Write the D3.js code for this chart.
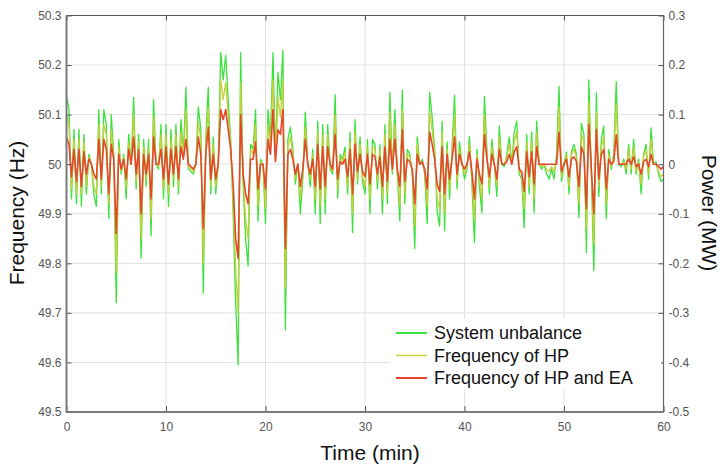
<!DOCTYPE html>
<html>
<head>
<meta charset="utf-8">
<script src="https://cdn.jsdelivr.net/npm/d3@7/dist/d3.min.js"></script>
<style>
  body { margin: 0; background: #fff; }
  svg { display: block; font-family: Arial, "Liberation Sans", sans-serif; }
</style>
</head>
<body>
<svg id="chart" width="722" height="465"></svg>
<script>
// sampling of the traces (min)
const SAMPLE_STEP = 0.25;
const NOMINAL_HZ = 50;

const xTicks = [0, 10, 20, 30, 40, 50, 60];
const xTickLabels = ['0', '10', '20', '30', '40', '50', '60'];
const hzTicks = [49.5, 49.6, 49.7, 49.8, 49.9, 50, 50.1, 50.2, 50.3];
const hzTickLabels = ['49.5', '49.6', '49.7', '49.8', '49.9', '50', '50.1', '50.2', '50.3'];
const mwTicks = [-0.5, -0.4, -0.3, -0.2, -0.1, 0, 0.1, 0.2, 0.3];
const mwTickLabels = ['-0.5', '-0.4', '-0.3', '-0.2', '-0.1', '0', '0.1', '0.2', '0.3'];

const seriesNames = ['System unbalance', 'Frequency of HP', 'Frequency of HP and EA'];

// system unbalance (MW)
const unbalanceMW = [
  0.14, 0.11, -0.07, 0.07, -0.08, 0.07, -0.085, 0.06, -0.06, 0.02,
  0.0, -0.06, -0.085, 0.11, -0.06, 0.11, 0.08, -0.11, 0.1, 0.02,
  -0.28, 0.05, -0.02, 0.02, -0.07, 0.06, 0.0, 0.135, -0.05, 0.06,
  -0.19, 0.05, -0.045, 0.05, -0.145, 0.13, 0.0, -0.01, 0.08, -0.07,
  0.08, -0.085, 0.07, -0.045, 0.08, -0.06, 0.09, 0.02, 0.155, -0.01,
  -0.015, -0.02, 0.0, 0.115, 0.07, -0.26, 0.055, 0.155, -0.06, 0.055,
  -0.06, 0.0, 0.225, 0.17, 0.22, 0.13, 0.05, -0.1, -0.28, -0.405,
  0.225, -0.04, -0.15, -0.205, 0.04, 0.03, 0.11, -0.115, 0.01, 0.0,
  -0.12, 0.11, 0.05, 0.225, 0.015, 0.185, 0.13, 0.23, -0.335, 0.05,
  0.075, 0.03, -0.04, 0.0, -0.1, -0.03, 0.105, 0.0, -0.045, 0.03,
  -0.1, 0.087, -0.12, 0.08, -0.1, 0.08, -0.01, -0.02, 0.14, -0.068,
  0.02, 0.01, 0.035, -0.06, 0.065, -0.138, 0.09, -0.04, 0.055, -0.035,
  -0.06, 0.05, -0.1, 0.05, 0.04, -0.05, 0.04, -0.1, 0.08, -0.08,
  0.145, -0.02, 0.11, -0.02, -0.115, 0.15, -0.08, 0.03, 0.02, -0.02,
  -0.17, 0.055, 0.0, 0.01, -0.02, -0.12, 0.145, 0.095, 0.03, -0.095,
  -0.125, 0.087, -0.135, 0.045, -0.07, 0.03, 0.14, -0.05, 0.045, 0.0,
  -0.03, -0.01, 0.056, -0.04, -0.158, 0.03, -0.045, -0.098, 0.137, 0.03,
  -0.06, 0.05, 0.0, -0.065, 0.077, 0.0, -0.005, 0.02, 0.055, 0.0,
  0.065, 0.087, -0.02, -0.03, -0.128, 0.06, -0.06, 0.065, -0.098, 0.087,
  0.0, -0.01, 0.0, -0.02, -0.03, -0.01, -0.03, 0.02, 0.157, -0.035,
  0.0, 0.025, -0.06, 0.025, 0.04, 0.02, -0.108, 0.083, 0.06, -0.178,
  0.17, -0.02, -0.215, 0.144, -0.065, 0.05, 0.077, -0.11, 0.03, -0.01,
  0.02, 0.167, 0.0, -0.005, 0.01, -0.02, 0.04, -0.02, 0.05, -0.02,
  0.01, -0.06, 0.02, 0.04, -0.03, 0.073, 0.0, 0.005, -0.02, -0.035,
  -0.03
];

// frequency deviation with HP only (Hz from 50)
const freqHPDev = [
  0.1, 0.08, -0.05, 0.05, -0.06, 0.05, -0.06, 0.045, -0.045, 0.015,
  0.0, -0.045, -0.06, 0.08, -0.045, 0.08, 0.06, -0.08, 0.07, 0.015,
  -0.22, 0.035, -0.015, 0.015, -0.05, 0.045, 0.0, 0.1, -0.035, 0.045,
  -0.15, 0.035, -0.03, 0.035, -0.11, 0.095, 0.0, -0.005, 0.06, -0.05,
  0.06, -0.06, 0.05, -0.03, 0.06, -0.045, 0.065, 0.015, 0.11, -0.005,
  -0.01, -0.015, 0.0, 0.085, 0.05, -0.2, 0.04, 0.115, -0.045, 0.04,
  -0.045, 0.0, 0.17, 0.13, 0.165, 0.1, 0.04, -0.07, -0.21, -0.3,
  0.165, -0.03, -0.11, -0.15, 0.03, 0.02, 0.08, -0.085, 0.005, 0.0,
  -0.09, 0.08, 0.035, 0.17, 0.01, 0.135, 0.095, 0.17, -0.25, 0.035,
  0.055, 0.02, -0.03, 0.0, -0.07, -0.02, 0.075, 0.0, -0.03, 0.02,
  -0.07, 0.065, -0.085, 0.06, -0.07, 0.06, -0.005, -0.015, 0.1, -0.05,
  0.015, 0.005, 0.025, -0.045, 0.045, -0.1, 0.065, -0.03, 0.04, -0.025,
  -0.045, 0.035, -0.07, 0.035, 0.03, -0.035, 0.03, -0.07, 0.06, -0.06,
  0.105, -0.015, 0.08, -0.015, -0.085, 0.11, -0.06, 0.02, 0.015, -0.015,
  -0.125, 0.04, 0.0, 0.005, -0.015, -0.085, 0.105, 0.07, 0.02, -0.07,
  -0.09, 0.065, -0.1, 0.03, -0.05, 0.02, 0.1, -0.035, 0.03, 0.0,
  -0.02, -0.005, 0.04, -0.03, -0.115, 0.02, -0.03, -0.07, 0.1, 0.02,
  -0.045, 0.035, 0.0, -0.045, 0.055, 0.0, 0.0, 0.015, 0.04, 0.0,
  0.045, 0.065, -0.015, -0.02, -0.09, 0.045, -0.045, 0.045, -0.07, 0.065,
  0.0, -0.005, 0.0, -0.01, -0.015, -0.005, -0.015, 0.01, 0.115, -0.025,
  0.0, 0.02, -0.045, 0.02, 0.03, 0.015, -0.08, 0.06, 0.045, -0.13,
  0.125, -0.015, -0.16, 0.105, -0.045, 0.035, 0.055, -0.08, 0.02, -0.005,
  0.015, 0.12, 0.0, 0.0, 0.005, -0.01, 0.03, -0.01, 0.035, -0.015,
  0.005, -0.04, 0.015, 0.03, -0.02, 0.05, 0.0, 0.0, -0.015, -0.025,
  -0.02
];

// frequency deviation with HP and EA (Hz from 50)
const freqHPEADev = [
  0.055, 0.04, -0.025, 0.03, -0.035, 0.03, -0.045, 0.025, -0.02, 0.01,
  0.0, -0.02, -0.03, 0.05, -0.03, 0.05, 0.03, -0.06, 0.04, 0.01,
  -0.14, 0.02, -0.01, 0.01, -0.03, 0.03, 0.0, 0.055, -0.02, 0.03,
  -0.1, 0.02, -0.02, 0.02, -0.07, 0.055, 0.0, 0.0, 0.03, -0.03,
  0.035, -0.04, 0.03, -0.02, 0.035, -0.03, 0.035, 0.01, 0.05, 0.0,
  -0.005, -0.01, 0.0, 0.055, 0.02, -0.13, 0.02, 0.075, -0.03, 0.02,
  -0.03, 0.0, 0.11, 0.09, 0.11, 0.07, 0.03, -0.04, -0.15, -0.19,
  0.1, -0.02, -0.06, -0.08, 0.01, 0.01, 0.045, -0.05, 0.0, 0.0,
  -0.05, 0.05, 0.02, 0.11, 0.005, 0.07, 0.06, 0.11, -0.17, 0.02,
  0.03, 0.01, -0.02, 0.0, -0.045, -0.01, 0.05, 0.0, -0.02, 0.01,
  -0.045, 0.04, -0.05, 0.035, -0.045, 0.035, 0.0, -0.01, 0.06, -0.03,
  0.005, 0.0, 0.01, -0.025, 0.03, -0.06, 0.04, -0.015, 0.02, -0.015,
  -0.025, 0.02, -0.04, 0.02, 0.015, -0.02, 0.015, -0.045, 0.035, -0.035,
  0.05, -0.01, 0.05, -0.01, -0.045, 0.07, -0.035, 0.01, 0.005, -0.01,
  -0.08, 0.02, 0.0, 0.005, -0.01, -0.05, 0.065, 0.04, 0.01, -0.04,
  -0.055, 0.035, -0.06, 0.02, -0.03, 0.01, 0.055, -0.02, 0.02, 0.0,
  -0.01, 0.0, 0.025, -0.015, -0.07, 0.01, -0.02, -0.04, 0.06, 0.01,
  -0.025, 0.02, 0.0, -0.03, 0.03, 0.0, 0.0, 0.005, 0.02, 0.0,
  0.025, 0.035, -0.01, -0.015, -0.055, 0.025, -0.025, 0.025, -0.04, 0.035,
  0.0, 0.0, 0.0, 0.0, 0.0, 0.0, 0.0, 0.0, 0.065, -0.015,
  0.0, 0.01, -0.025, 0.01, 0.015, 0.005, -0.045, 0.035, 0.02, -0.09,
  0.08, -0.01, -0.1, 0.07, -0.03, 0.02, 0.03, -0.05, 0.01, 0.0,
  0.005, 0.06, 0.0, 0.0, 0.0, 0.0, 0.01, 0.0, 0.015, -0.005,
  0.0, -0.02, 0.005, 0.01, -0.005, 0.02, 0.0, 0.0, -0.005, -0.01,
  -0.005
];

const colors = ['#3ce23c', '#c6cf3c', '#e6462a'];

const plot = { left: 66.5, right: 663.5, top: 15.5, bottom: 412 };

const svg = d3.select('#chart');

const x = d3.scaleLinear().domain([0, 60]).range([plot.left, plot.right]);
const yHz = d3.scaleLinear().domain([49.5, 50.3]).range([plot.bottom, plot.top]);
const yMW = d3.scaleLinear().domain([-0.5, 0.3]).range([plot.bottom, plot.top]);

const tAt = i => i * SAMPLE_STEP;

// grid
const grid = svg.append('g').attr('class', 'grid');
grid
  .selectAll('.vgrid')
  .data(xTicks.slice(1, -1))
  .enter()
  .append('line')
  .attr('x1', d => x(d))
  .attr('x2', d => x(d))
  .attr('y1', plot.top)
  .attr('y2', plot.bottom)
  .attr('stroke', '#e1e1e1')
  .attr('stroke-width', 1);
grid
  .selectAll('.hgrid')
  .data(hzTicks.slice(1, -1))
  .enter()
  .append('line')
  .attr('x1', plot.left)
  .attr('x2', plot.right)
  .attr('y1', d => yHz(d))
  .attr('y2', d => yHz(d))
  .attr('stroke', '#e1e1e1')
  .attr('stroke-width', 1);

// traces
const lineMW = d3
  .line()
  .x((d, i) => x(tAt(i)))
  .y(d => yMW(d));
const lineHz = d3
  .line()
  .x((d, i) => x(tAt(i)))
  .y(d => yHz(NOMINAL_HZ + d));

const traces = svg.append('g').attr('class', 'traces');
traces
  .append('path')
  .attr('d', lineMW(unbalanceMW))
  .attr('fill', 'none')
  .attr('stroke', colors[0])
  .attr('stroke-width', 1.3)
  .attr('stroke-linejoin', 'round');
traces
  .append('path')
  .attr('d', lineHz(freqHPDev))
  .attr('fill', 'none')
  .attr('stroke', colors[1])
  .attr('stroke-width', 1.3)
  .attr('stroke-linejoin', 'round');
traces
  .append('path')
  .attr('d', lineHz(freqHPEADev))
  .attr('fill', 'none')
  .attr('stroke', colors[2])
  .attr('stroke-width', 1.6)
  .attr('stroke-linejoin', 'round');

// axes
const styleAxis = g => {
  g.select('.domain').remove();
  g.selectAll('.tick line').attr('stroke', '#555').attr('stroke-width', 1);
  g.selectAll('.tick text')
    .attr('fill', '#555')
    .style('font-size', '12px');
};

svg
  .append('g')
  .attr('transform', `translate(0, ${plot.bottom})`)
  .call(
    d3
      .axisBottom(x)
      .tickValues(xTicks)
      .tickFormat((d, i) => xTickLabels[i])
      .tickSizeInner(-6)
      .tickSizeOuter(0)
      .tickPadding(10)
  )
  .call(styleAxis);

svg
  .append('g')
  .attr('transform', `translate(0, ${plot.top})`)
  .call(
    d3
      .axisTop(x)
      .tickValues(xTicks)
      .tickFormat('')
      .tickSizeInner(-5)
      .tickSizeOuter(0)
  )
  .call(styleAxis);

svg
  .append('g')
  .attr('transform', `translate(${plot.left}, 0)`)
  .call(
    d3
      .axisLeft(yHz)
      .tickValues(hzTicks)
      .tickFormat((d, i) => hzTickLabels[i])
      .tickSizeInner(-5)
      .tickSizeOuter(0)
      .tickPadding(5)
  )
  .call(styleAxis);

svg
  .append('g')
  .attr('transform', `translate(${plot.right}, 0)`)
  .call(
    d3
      .axisRight(yMW)
      .tickValues(mwTicks)
      .tickFormat((d, i) => mwTickLabels[i])
      .tickSizeInner(-5)
      .tickSizeOuter(0)
      .tickPadding(5)
  )
  .call(styleAxis);

// frame
const frame = svg.append('g').attr('class', 'frame').attr('fill', 'none');
frame
  .append('line')
  .attr('x1', plot.left)
  .attr('x2', plot.right)
  .attr('y1', plot.top)
  .attr('y2', plot.top)
  .attr('stroke', '#555')
  .attr('stroke-width', 1);
frame
  .append('line')
  .attr('x1', plot.right)
  .attr('x2', plot.right)
  .attr('y1', plot.top)
  .attr('y2', plot.bottom)
  .attr('stroke', '#666')
  .attr('stroke-width', 1.2);
frame
  .append('line')
  .attr('x1', plot.left)
  .attr('x2', plot.left)
  .attr('y1', plot.top)
  .attr('y2', plot.bottom + 1)
  .attr('stroke', '#7a7a7a')
  .attr('stroke-width', 2);
frame
  .append('line')
  .attr('x1', plot.left)
  .attr('x2', plot.right)
  .attr('y1', plot.bottom)
  .attr('y2', plot.bottom)
  .attr('stroke', '#7a7a7a')
  .attr('stroke-width', 2);

// axis titles
svg
  .append('text')
  .attr('transform', 'translate(17, 213) rotate(-90)')
  .attr('text-anchor', 'middle')
  .attr('dy', '0.35em')
  .style('font-size', '21px')
  .attr('fill', '#111')
  .text('Frequency (Hz)');

svg
  .append('text')
  .attr('transform', 'translate(709, 213) rotate(90)')
  .attr('text-anchor', 'middle')
  .attr('dy', '0.35em')
  .style('font-size', '21px')
  .attr('fill', '#111')
  .text('Power (MW)');

svg
  .append('text')
  .attr('x', 370)
  .attr('y', 460)
  .attr('text-anchor', 'middle')
  .style('font-size', '21px')
  .attr('fill', '#111')
  .text('Time (min)');

// legend
const legend = svg.append('g').attr('class', 'legend');
legend
  .append('rect')
  .attr('x', 390)
  .attr('y', 319)
  .attr('width', 271)
  .attr('height', 70)
  .attr('fill', '#fff');

const item = legend
  .selectAll('.item')
  .data(seriesNames)
  .enter()
  .append('g')
  .attr('class', 'item')
  .attr('transform', (d, i) => `translate(396, ${333 + i * 22.5})`);

item
  .append('line')
  .attr('x1', 0)
  .attr('x2', 31)
  .attr('stroke', (d, i) => colors[i])
  .attr('stroke-width', (d, i) => (i === 1 ? 1.5 : 2));

item
  .append('text')
  .attr('x', 38)
  .attr('dy', '0.35em')
  .style('font-size', '18px')
  .attr('fill', '#111')
  .text(d => d);
</script>
</body>
</html>
